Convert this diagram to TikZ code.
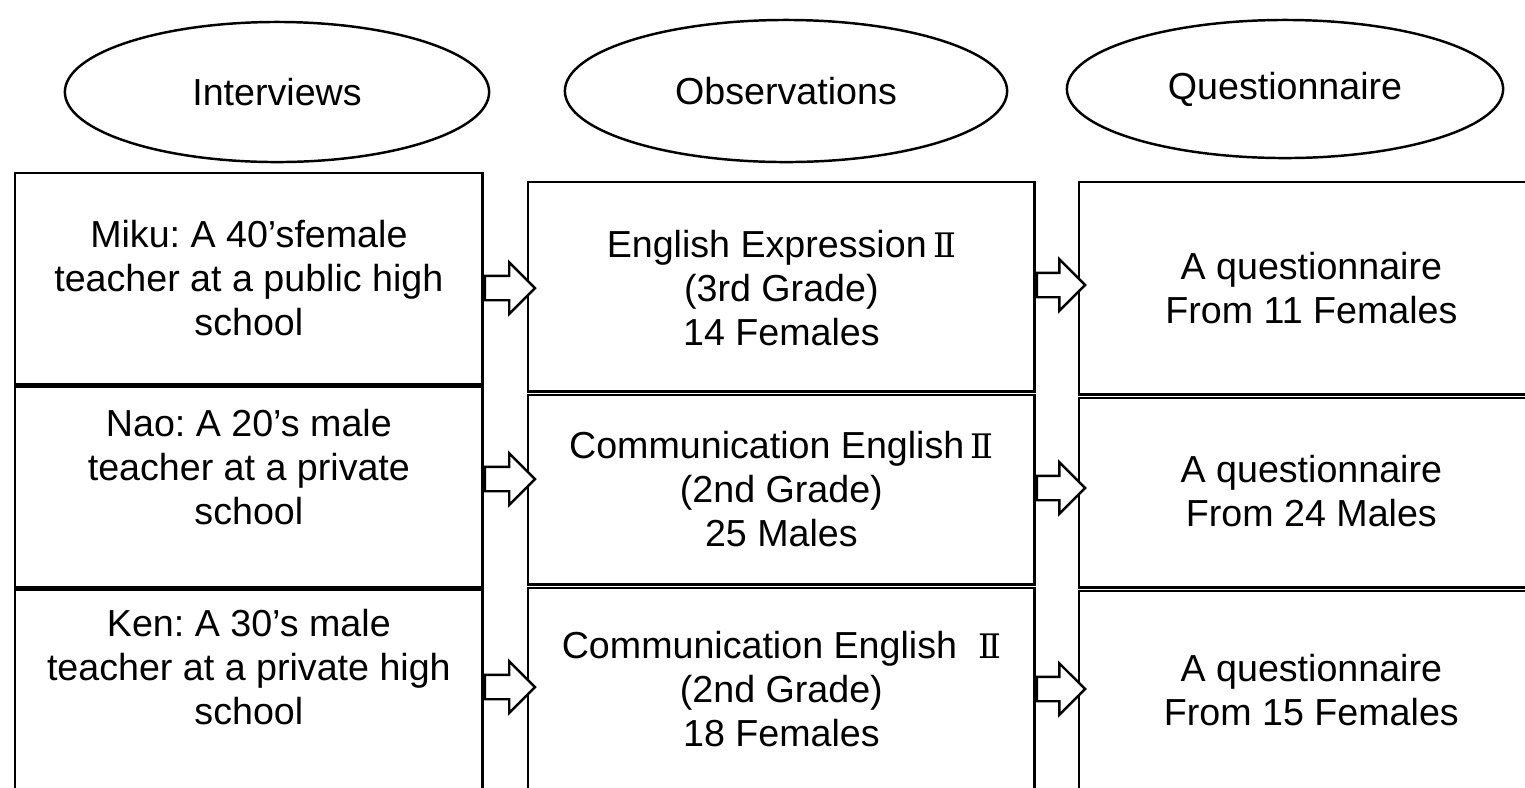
\documentclass[tikz,border=0pt]{standalone}
\usepackage{fontspec}
\setmainfont{Liberation Sans}
\newfontfamily\romanFont{DejaVu Serif}
\usetikzlibrary{positioning}
\usetikzlibrary{shapes.geometric}
\usetikzlibrary{shapes.arrows}
\frenchspacing
\newcommand{\labelFont}{\fontsize{10.7}{12.5}\selectfont}
\newcommand{\romanTwo}{{\romanFont\fontsize{9.6}{12.5}\selectfont Ⅱ}}
\tikzstyle{diagram} = [x = 0.01cm, y = -0.01cm]
\tikzstyle{methodStyle} = [draw, ellipse, line width=0.7pt, inner sep=0pt, font=\labelFont]
\tikzstyle{boxStyle} = [draw, rectangle, line width=0.7pt, anchor=north west, inner sep=0pt]
\tikzstyle{boxText} = [align=center, inner sep=0pt, font=\labelFont]
\tikzstyle{blockArrow} = [draw, single arrow, single arrow head extend=.135cm, inner sep=.11cm, line width=0.7pt, fill=white, anchor=tail]
\newcommand{\dataBox}[7]{
  \node [boxStyle, minimum width=#4, minimum height=#5] (#1) at (#2,#3) {};
  \node [boxText] (#1Text) at (#1.center |- 0,#6) {#7};
}

\begin{document}
\begin{tikzpicture}[diagram]
  \useasboundingbox (0,0) rectangle (1525,787);
  \clip (0,0) rectangle (1525,787);
  % methods
  \node [methodStyle, minimum width=4.24cm, minimum height=1.40cm] (interviews) at (277,92) {Interviews};
  \node [methodStyle, minimum width=4.42cm, minimum height=1.42cm] (observations) at (786,91) {Observations};
  \node [methodStyle, minimum width=4.36cm, minimum height=1.38cm] (questionnaire) at (1285,89) {Questionnaire};

  % interviews column
  \dataBox{interview1}{14}{172}{4.67cm}{2.11cm}{278}{Miku: A 40’sfemale\\teacher at a public high\\school}
  \dataBox{interview2}{14}{386}{4.67cm}{2.00cm}{467}{Nao: A 20’s male\\teacher at a private\\school}
  \dataBox{interview3}{14}{589}{4.67cm}{2.50cm}{667}{Ken: A 30’s male\\teacher at a private high\\school}

  % observations column
  \dataBox{observation1}{527}{181}{5.06cm}{2.09cm}{288}{English Expression\,\romanTwo\\(3rd Grade)\\14 Females}
  \dataBox{observation2}{527}{394}{5.06cm}{1.89cm}{489}{Communication English\,\romanTwo\\(2nd Grade)\\25 Males}
  \dataBox{observation3}{527}{587}{5.06cm}{2.50cm}{689}{Communication English \ \romanTwo\\(2nd Grade)\\18 Females}

  % questionnaire column
  \dataBox{question1}{1078}{181}{4.64cm}{2.12cm}{288}{A questionnaire\\From 11 Females}
  \dataBox{question2}{1078}{397}{4.64cm}{1.89cm}{491}{A questionnaire\\From 24 Males}
  \dataBox{question3}{1078}{590}{4.64cm}{2.50cm}{690}{A questionnaire\\From 15 Females}

  % arrows between columns
  \foreach \row/\leftY/\rightY in {1/288/285, 2/479/488, 3/687/689} {
    \node [blockArrow, minimum height=.5cm] (toObservation\row) at (interview\row.east |- 0,\leftY) {};
    \node [blockArrow, minimum height=.48cm] (toQuestion\row) at (observation\row.east |- 0,\rightY) {};
  }
\end{tikzpicture}
\end{document}
